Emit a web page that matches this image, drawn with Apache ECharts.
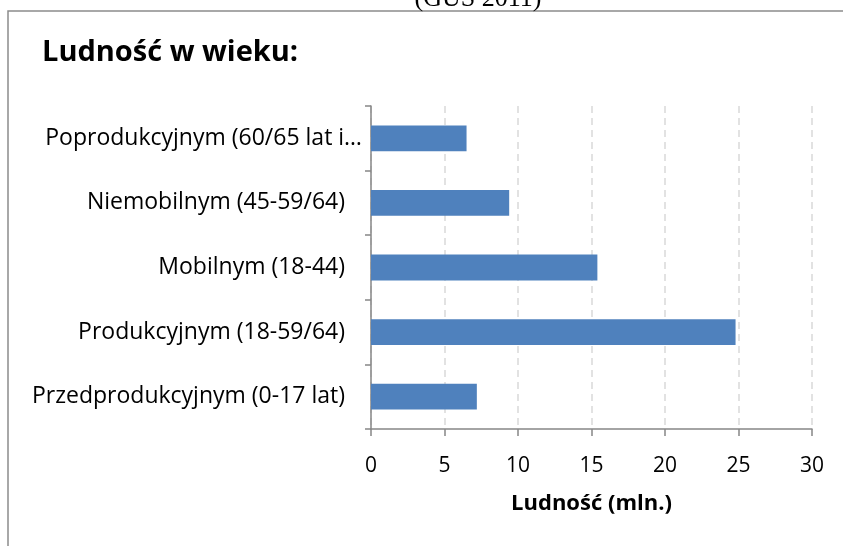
<!DOCTYPE html>
<html>
<head>
<meta charset="utf-8">
<title>Ludność w wieku</title>
<script src="https://cdn.jsdelivr.net/npm/echarts@6/dist/echarts.min.js"></script>
<style>
  html, body { margin: 0; padding: 0; background: #fff; }
  #container { width: 843px; height: 546px; }
</style>
</head>
<body>
<div id="container"></div>
<script>
// dane: GUS 2011, ludność w mln
var categories = [
    'Poprodukcyjnym (60/65 lat i więcej)',
    'Niemobilnym (45-59/64)',
    'Mobilnym (18-44)',
    'Produkcyjnym (18-59/64)',
    'Przedprodukcyjnym (0-17 lat)'
];
var values = [6.5, 9.4, 15.4, 24.8, 7.2];
var axisMin = 0;
var axisMax = 30;
var axisStep = 5;

var chartTitle = 'Ludność w wieku:';
var sourceText = '(GUS 2011)';
var axisName = 'Ludność (mln.)';

var myChart = echarts.init(document.getElementById('container'));

var axisColor = '#868686';
var font = '"Open Sans", Lato, sans-serif';

// pierwsza etykieta jest ucięta i wychodzi trochę bliżej osi
var categoryData = categories.map(function (name, i) {
    if (i === 0) {
        return {value: name, textStyle: {padding: [0, -17, 0, 0]}};
    }
    return name;
});

var options = {
    animation: false,
    backgroundColor: '#fff',
    title: {
        text: chartTitle,
        left: 42,
        top: 38,
        padding: 0,
        textStyle: {
            fontFamily: font,
            fontSize: 29,
            fontWeight: 'bold',
            color: '#000'
        }
    },
    graphic: [
        {
            type: 'rect',
            shape: {x: 8, y: 11, width: 900, height: 600},
            style: {fill: 'none', stroke: '#8c8c8c', lineWidth: 1.5},
            silent: true
        },
        {
            type: 'text',
            x: 478,
            y: -1,
            style: {
                text: sourceText,
                font: '26px "Liberation Serif", serif',
                fill: '#000',
                align: 'center',
                verticalAlign: 'middle'
            }
        }
    ],
    grid: {
        left: 371,
        right: 31,
        top: 106,
        bottom: 117,
        containLabel: false
    },
    xAxis: {
        type: 'value',
        min: axisMin,
        max: axisMax,
        interval: axisStep,
        name: axisName,
        nameLocation: 'middle',
        nameGap: 64,
        nameTextStyle: {
            fontFamily: font,
            fontSize: 22,
            fontWeight: 'bold',
            color: '#000'
        },
        axisLine: {show: true, lineStyle: {color: axisColor, width: 1.5}},
        axisTick: {show: true, length: 7, lineStyle: {color: axisColor, width: 1.5}},
        axisLabel: {
            margin: 27,
            fontFamily: font,
            fontSize: 21,
            color: '#000'
        },
        splitLine: {
            show: true,
            lineStyle: {color: '#d9d9d9', width: 1.5, type: [7, 5]}
        }
    },
    yAxis: {
        type: 'category',
        inverse: true,
        data: categoryData,
        axisLine: {show: true, lineStyle: {color: axisColor, width: 1.5}},
        axisTick: {show: true, length: 6, lineStyle: {color: axisColor, width: 1.5}},
        axisLabel: {
            margin: 26,
            fontFamily: font,
            fontSize: 23,
            color: '#000',
            width: 323,
            overflow: 'truncate',
            ellipsis: '…'
        },
        splitLine: {show: false}
    },
    series: [
        {
            type: 'bar',
            data: values,
            barCategoryGap: '60%',
            itemStyle: {color: '#4F81BD'}
        }
    ]
};

myChart.setOption(options);
</script>
</body>
</html>
